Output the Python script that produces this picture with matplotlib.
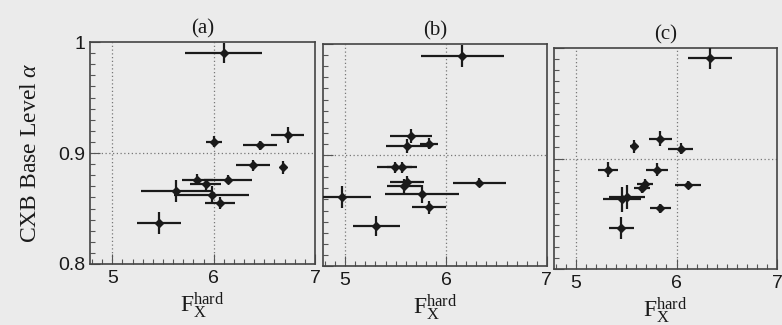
"""Three-panel scatter of CXB base level against hard-band flux, with x/y error bars."""

import matplotlib
matplotlib.use("Agg")
import matplotlib.pyplot as plt
from matplotlib.ticker import MultipleLocator, FixedLocator

BG = "#ebebeb"
INK = "#1a1a1a"

PANELS = ["(a)", "(b)", "(c)"]

# panel (a)
fx_a = [6.10, 6.00, 6.46, 6.73, 6.39, 6.68, 5.84, 6.14, 5.92, 5.63, 5.98, 6.06, 5.46]
fx_err_a = [0.38, 0.08, 0.17, 0.16, 0.17, 0.02, 0.15, 0.24, 0.15, 0.35, 0.37, 0.15, 0.22]
alpha_a = [0.990, 0.910, 0.907, 0.916, 0.889, 0.887, 0.876, 0.876, 0.872, 0.866, 0.862, 0.855, 0.837]
alpha_err_a = [0.009, 0.005, 0.004, 0.007, 0.005, 0.006, 0.005, 0.004, 0.005, 0.010, 0.008, 0.005, 0.010]

# panel (b)
fx_b = [6.16, 5.65, 5.83, 5.61, 5.49, 5.56, 5.61, 5.58, 5.76, 4.97, 5.83, 5.31, 6.33]
fx_err_b = [0.41, 0.21, 0.09, 0.21, 0.17, 0.15, 0.17, 0.17, 0.37, 0.29, 0.17, 0.23, 0.26]
alpha_b = [0.989, 0.917, 0.910, 0.908, 0.889, 0.889, 0.876, 0.872, 0.865, 0.862, 0.853, 0.836, 0.875]
alpha_err_b = [0.010, 0.006, 0.005, 0.006, 0.005, 0.005, 0.005, 0.006, 0.008, 0.010, 0.006, 0.009, 0.004]

# panel (c)
fx_c = [6.33, 5.84, 5.58, 6.04, 5.32, 5.81, 5.69, 5.66, 6.11, 5.51, 5.46, 5.84, 5.45]
fx_err_c = [0.22, 0.11, 0.04, 0.12, 0.10, 0.11, 0.08, 0.08, 0.13, 0.18, 0.19, 0.10, 0.125]
alpha_c = [0.991, 0.918, 0.911, 0.909, 0.890, 0.890, 0.877, 0.873, 0.876, 0.865, 0.863, 0.855, 0.837]
alpha_err_c = [0.010, 0.007, 0.006, 0.005, 0.007, 0.006, 0.004, 0.004, 0.004, 0.011, 0.011, 0.004, 0.010]

X_TICKS = [5, 6, 7]
Y_TICKS = [0.8, 0.9, 1.0]
Y_TICK_LABELS = ["0.8", "0.9", "1"]


def main() -> None:
    plt.rcParams["mathtext.fontset"] = "custom"
    plt.rcParams["mathtext.rm"] = "Liberation Serif"
    plt.rcParams["mathtext.it"] = "Liberation Serif:italic"

    fig = plt.figure(figsize=(7.82, 3.25), dpi=100, facecolor=BG)
    boxes = [(0.1151, 0.1877, 0.2877, 0.683),
             (0.4130, 0.1815, 0.2864, 0.683),
             (0.7084, 0.1723, 0.2852, 0.680)]
    data = [(fx_a, fx_err_a, alpha_a, alpha_err_a),
            (fx_b, fx_err_b, alpha_b, alpha_err_b),
            (fx_c, fx_err_c, alpha_c, alpha_err_c)]

    for i, (box, (x, xe, y, ye), title) in enumerate(zip(boxes, data, PANELS)):
        ax = fig.add_axes(box, facecolor=BG)
        ax.set_xlim(4.78, 7.0)
        ax.set_ylim(0.8, 1.0)

        # dotted reference lines
        for xv in (5, 6):
            ax.axvline(xv, ls=(0, (1, 2)), lw=0.9, color="#777777", zorder=1)
        ax.axhline(0.9, ls=(0, (1, 2)), lw=0.9, color="#777777", zorder=1)

        ax.errorbar(x, y, xerr=xe, yerr=ye, fmt="D", ms=4, mfc=INK, mec=INK,
                    ecolor=INK, elinewidth=1.6, capsize=0, zorder=3)

        for s in ax.spines.values():
            s.set_color("#444444")
            s.set_linewidth(1.2)
        ax.xaxis.set_major_locator(FixedLocator(X_TICKS))
        ax.xaxis.set_minor_locator(MultipleLocator(0.1))
        ax.yaxis.set_major_locator(FixedLocator(Y_TICKS))
        ax.yaxis.set_minor_locator(MultipleLocator(0.01))
        ax.tick_params(which="both", direction="in", color="#555555", width=0.8,
                       top=False, right=False)
        ax.tick_params(which="major", length=7)
        ax.tick_params(which="minor", length=3.5)
        ax.tick_params(axis="x", pad=4)
        ax.set_xticklabels([str(t) for t in X_TICKS], family="Liberation Sans",
                           fontsize=14, color=INK)
        if i == 0:
            ax.set_yticklabels(Y_TICK_LABELS, family="Liberation Sans",
                               fontsize=14, color=INK)
            ax.set_ylabel(r"CXB Base Level $\alpha$", family="Liberation Serif",
                          fontsize=17, color=INK, labelpad=12)
        else:
            ax.set_yticklabels([])

        ax.set_title(title, family="Liberation Serif", fontsize=15, color=INK, pad=6)
        ax.set_xlabel(r"$\mathrm{F_X^{hard}}$", fontsize=17, color=INK, labelpad=3)

    fig.savefig("out.png", dpi=100, facecolor=BG)


if __name__ == "__main__":
    main()
